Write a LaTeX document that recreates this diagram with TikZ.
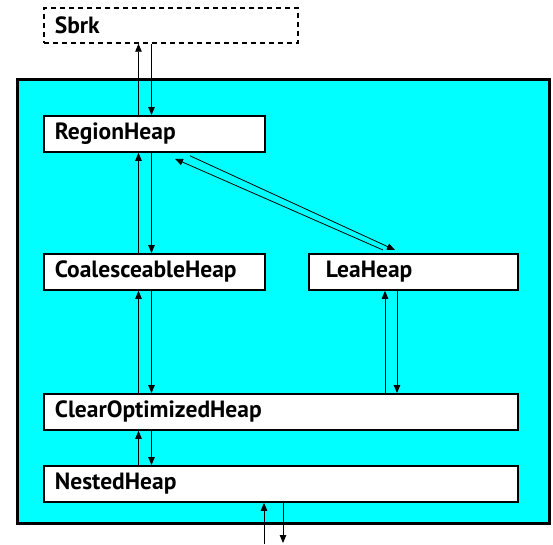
\documentclass[tikz,border=0pt]{standalone}
\usepackage{fontspec}
\setmainfont{PT Sans}
\usetikzlibrary{arrows.meta,calc}

\definecolor{heapcyan}{RGB}{0,255,255}

\begin{document}
\begin{tikzpicture}[x=1pt,y=-1pt,
  heapbox/.style={draw=black, line width=1.8pt, fill=white, anchor=north west,
    inner xsep=11pt, inner ysep=0pt, minimum height=36pt, align=left,
    font=\fontsize{23.5}{23.5}\selectfont\bfseries},
  arr/.style={line width=0.8pt, -{Triangle[length=8pt,width=6.5pt]}}
]
\useasboundingbox (0,0) rectangle (553,544);

% enclosing allocator frame
\node[draw=black, line width=2.8pt, fill=heapcyan, anchor=north west,
  minimum width=532pt, minimum height=444pt, inner sep=0pt] (frame) at (16,78) {};

% external system allocator
\node[heapbox, fill=none, line width=1.7pt, dash pattern=on 5pt off 4pt,
  minimum height=35pt, text width=232pt] (sbrk) at (43,7) {Sbrk};

% heap layers
\node[heapbox, text width=199pt] (region) at (43,115) {RegionHeap};
\node[heapbox, text width=199pt] (coal) at (43,253) {CoalesceableHeap};
\node[heapbox, inner xsep=17pt, text width=175pt] (lea) at (308,253) {LeaHeap};
\node[heapbox, text width=452pt] (clear) at (43,393) {ClearOptimizedHeap};
\node[heapbox, text width=452pt] (nested) at (43,465) {NestedHeap};

% columns for the vertical connector pairs
\coordinate (up) at (138.5,0);
\coordinate (dn) at (151.5,0);
\coordinate (leaup) at (385,0);
\coordinate (leadn) at (397,0);
\coordinate (inUp) at (264,544);
\coordinate (outDn) at (283,543);

% Sbrk <-> RegionHeap
\draw[arr] (region.north -| up) -- (sbrk.south -| up);
\draw[arr] (sbrk.south -| dn) -- (region.north -| dn);
% RegionHeap <-> CoalesceableHeap
\draw[arr] (coal.north -| up) -- (region.south -| up);
\draw[arr] (region.south -| dn) -- (coal.north -| dn);
% CoalesceableHeap <-> ClearOptimizedHeap
\draw[arr] (clear.north -| up) -- (coal.south -| up);
\draw[arr] (coal.south -| dn) -- (clear.north -| dn);
% ClearOptimizedHeap <-> NestedHeap
\draw[arr] (nested.north -| up) -- (clear.south -| up);
\draw[arr] (clear.south -| dn) -- (nested.north -| dn);
% LeaHeap <-> ClearOptimizedHeap
\draw[arr] (clear.north -| leaup) -- (lea.south -| leaup);
\draw[arr] (lea.south -| leadn) -- (clear.north -| leadn);
% RegionHeap <-> LeaHeap
\draw[arr] ($(lea.north west)+(75,-3)$) -- ($(region.south west)+(132,6)$);
\draw[arr] ($(region.south west)+(147,3)$) -- ($(lea.north west)+(87,-3)$);
% NestedHeap <-> client
\draw[arr] (inUp) -- (nested.south -| inUp);
\draw[arr] (nested.south -| outDn) -- (outDn);
\end{tikzpicture}
\end{document}
